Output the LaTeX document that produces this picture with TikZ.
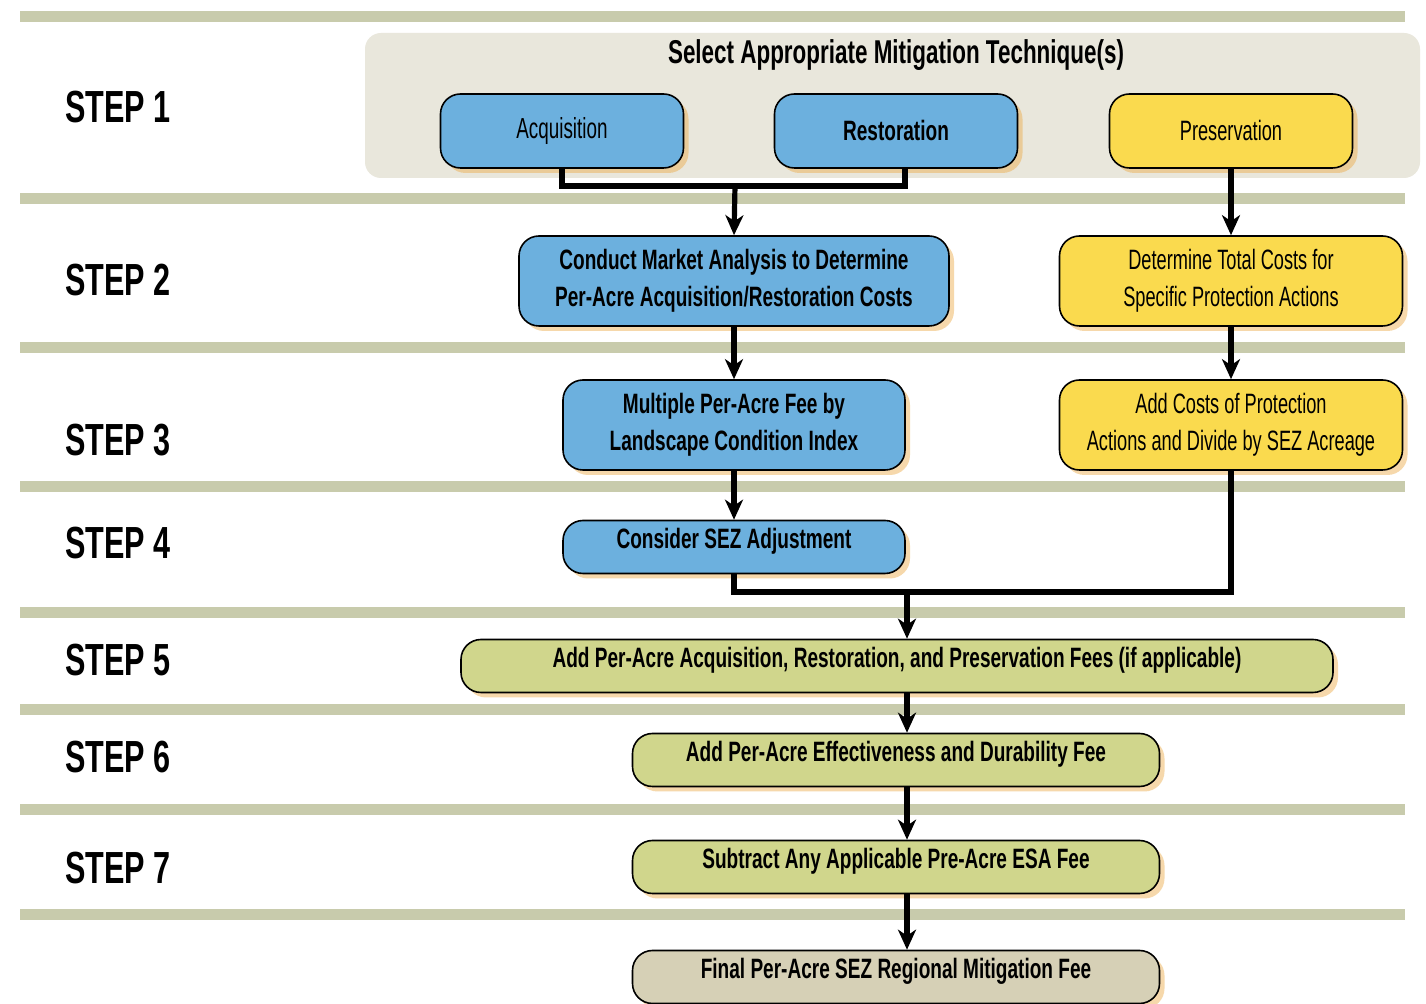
\documentclass[tikz,border=0pt]{standalone}
\usepackage{fontspec}
\setmainfont{Liberation Sans}[FakeStretch=0.65, BoldFeatures={FakeStretch=0.68}]
\usetikzlibrary{arrows.meta,shadows,positioning}

\definecolor{boxblue}{RGB}{108,176,222}
\definecolor{boxyellow}{RGB}{250,218,78}
\definecolor{boxgreen}{RGB}{208,214,140}
\definecolor{boxfinal}{RGB}{214,208,182}
\definecolor{bandgray}{RGB}{200,203,172}
\definecolor{panelgray}{RGB}{233,231,220}
\definecolor{glow}{RGB}{236,170,70}

\tikzset{
  box/.style={draw=black, line width=0.8pt, rounded corners=10pt, align=center,
    inner sep=0pt, font=\fontsize{14}{18.5}\selectfont,
    drop shadow={shadow xshift=2.5pt, shadow yshift=-2.5pt, fill=glow, opacity=0.45}},
  boldtext/.style={font=\fontsize{14}{18.5}\bfseries\selectfont},
  raised/.style={text height=10pt, text depth=8pt},
  bluebox/.style={box, fill=boxblue, minimum width=171pt, minimum height=45pt},
  yellowbox/.style={box, fill=boxyellow, minimum width=171.5pt, minimum height=45pt},
  greenbox/.style={box, boldtext, raised, fill=boxgreen, minimum width=263.5pt, minimum height=26.5pt},
  finalbox/.style={greenbox, fill=boxfinal},
  link/.style={line width=2.6pt},
  flow/.style={line width=2.6pt, -{Stealth[length=10pt, width=9pt, inset=3pt]}},
  steplabel/.style={anchor=west, inner sep=0pt, font=\fontsize{22.5}{24}\bfseries\selectfont}
}

\begin{document}
\begin{tikzpicture}[x=0.5pt, y=-0.5pt]
  \useasboundingbox (0,0) rectangle (1426,1004);
  \fill[white] (0,0) rectangle (1426,1004);

  % bands between the steps
  \foreach \y in {17,199,348,487,613,710,810,915}
    \fill[bandgray] (20,\y-5.5) rectangle (1405,\y+5.5);

  % step 1 panel
  \fill[panelgray, rounded corners=8pt] (365,33) rectangle (1420,178);
  \node[font=\fontsize{16.5}{18}\bfseries\selectfont] (title) at (896,55)
    {Select Appropriate Mitigation Technique(s)};

  % step labels
  \foreach \n/\y in {1/107,2/280,3/440,4/543,5/660,6/757,7/868}
    \node[steplabel] (step\n) at (65,\y) {STEP \n};

  % step 1
  \node[bluebox, minimum width=121.5pt, minimum height=37pt, font=\fontsize{14.5}{18.5}\selectfont] (acq) at (562,131) {Acquisition};
  \node[bluebox, boldtext, minimum width=121.5pt, minimum height=37pt] (res) at (896,131) {Restoration};
  \node[yellowbox, minimum width=121.5pt, minimum height=37pt] (pres) at (1231,131) {Preservation};

  % steps 2 to 4
  \node[bluebox, boldtext, minimum width=215pt] (market) at (734,281)
    {Conduct Market Analysis to Determine\\Per-Acre Acquisition/Restoration Costs};
  \node[yellowbox] (total) at (1231,281)
    {Determine Total Costs for\\Specific Protection Actions};
  \node[bluebox, boldtext] (multiple) at (734,425)
    {Multiple Per-Acre Fee by\\Landscape Condition Index};
  \node[yellowbox] (addcost) at (1231,425)
    {Add Costs of Protection\\Actions and Divide by SEZ Acreage};
  \node[bluebox, boldtext, raised, minimum height=26.5pt] (sez) at (734,547)
    {Consider SEZ Adjustment};

  % steps 5 to 7 and result
  \node[greenbox, minimum width=436pt] (fees) at (897,666)
    {Add Per-Acre Acquisition, Restoration, and Preservation Fees (if applicable)};
  \node[greenbox] (eff) at (896,760)
    {Add Per-Acre Effectiveness and Durability Fee};
  \node[greenbox] (sub) at (896,867)
    {Subtract Any Applicable Pre-Acre ESA Fee};
  \node[finalbox] (final) at (896,977)
    {Final Per-Acre SEZ Regional Mitigation Fee};

  % connectors
  \coordinate (j1) at (735,186);
  \coordinate (j2) at (907,592);
  \draw[link] (acq.south) |- (j1);
  \draw[link] ([xshift=4.5pt]res.south) |- (j1);
  \draw[flow] (j1) -- (market.north);
  \draw[flow] (pres.south) -- (total.north);
  \draw[flow] (total.south) -- (addcost.north);
  \draw[flow] (market.south) -- (multiple.north);
  \draw[flow] (multiple.south) -- (sez.north);
  \draw[link] (sez.south) |- (j2);
  \draw[link] (addcost.south) |- (j2);
  \draw[flow] (j2) -- (j2 |- fees.north);
  \draw[flow] (fees.south -| j2) -- (eff.north -| j2);
  \draw[flow] (eff.south -| j2) -- (sub.north -| j2);
  \draw[flow] (sub.south -| j2) -- (final.north -| j2);
\end{tikzpicture}
\end{document}
